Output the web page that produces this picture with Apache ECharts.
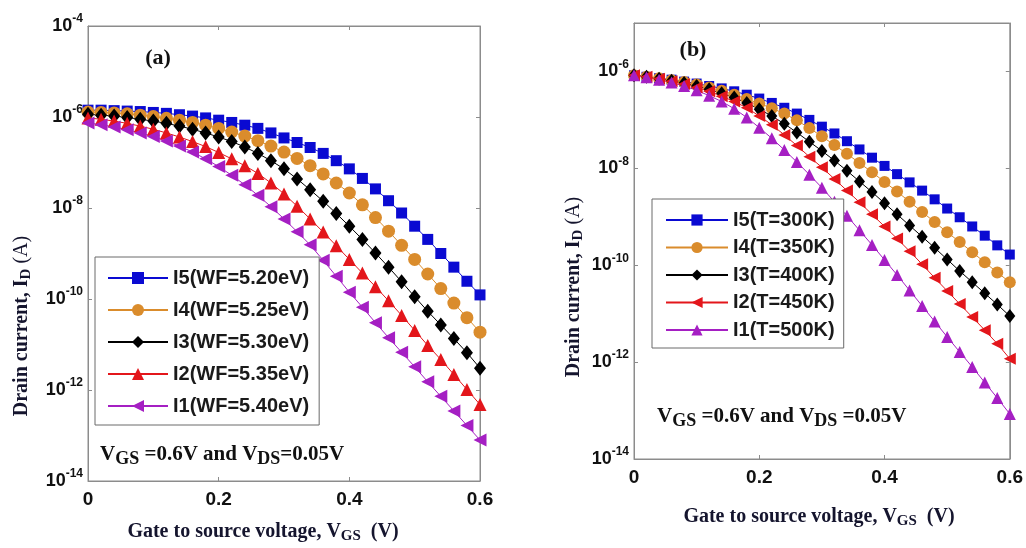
<!DOCTYPE html>
<html>
<head>
<meta charset="utf-8">
<script src="https://cdn.jsdelivr.net/npm/echarts@6/dist/echarts.min.js"></script>
<style>
  html, body { margin: 0; padding: 0; background: #fff; }
  #chart { width: 1026px; height: 548px; }
</style>
</head>
<body>
<div id="chart"></div>
<script>
// gate voltage steps (V)
const vgs = [0, 0.02, 0.04, 0.06, 0.08, 0.1, 0.12, 0.14, 0.16, 0.18, 0.2,
  0.22, 0.24, 0.26, 0.28, 0.3, 0.32, 0.34, 0.36, 0.38, 0.4,
  0.42, 0.44, 0.46, 0.48, 0.5, 0.52, 0.54, 0.56, 0.58, 0.6];

// panel (a): log10 of drain current
const namesA = ['I5(WF=5.20eV)', 'I4(WF=5.25eV)', 'I3(WF=5.30eV)', 'I2(WF=5.35eV)', 'I1(WF=5.40eV)'];
const logA_I5 = [-5.85, -5.85, -5.86, -5.87, -5.88, -5.90, -5.92, -5.95, -5.98, -6.02, -6.07,
  -6.12, -6.18, -6.25, -6.35, -6.46, -6.56, -6.67, -6.80, -6.96, -7.14,
  -7.35, -7.58, -7.84, -8.11, -8.40, -8.69, -9.00, -9.30, -9.61, -9.91];
const logA_I4 = [-5.89, -5.90, -5.91, -5.93, -5.96, -5.99, -6.03, -6.07, -6.12, -6.18, -6.25,
  -6.33, -6.42, -6.52, -6.64, -6.77, -6.91, -7.07, -7.25, -7.45, -7.67,
  -7.93, -8.21, -8.51, -8.82, -9.13, -9.45, -9.77, -10.09, -10.41, -10.73];
const logA_I3 = [-5.94, -5.96, -5.98, -6.01, -6.05, -6.09, -6.14, -6.20, -6.27, -6.35, -6.44,
  -6.54, -6.66, -6.80, -6.96, -7.14, -7.36, -7.60, -7.85, -8.12, -8.40,
  -8.69, -8.99, -9.30, -9.62, -9.95, -10.27, -10.57, -10.87, -11.18, -11.52];
const logA_I2 = [-6.02, -6.05, -6.09, -6.14, -6.20, -6.27, -6.35, -6.44, -6.54, -6.65, -6.78,
  -6.92, -7.07, -7.24, -7.45, -7.69, -7.96, -8.24, -8.53, -8.83, -9.13,
  -9.43, -9.73, -10.04, -10.36, -10.69, -11.02, -11.33, -11.66, -11.99, -12.32];
const logA_I1 = [-6.13, -6.17, -6.22, -6.28, -6.35, -6.43, -6.53, -6.64, -6.77, -6.92, -7.09,
  -7.28, -7.49, -7.72, -7.97, -8.24, -8.52, -8.81, -9.15, -9.50, -9.85,
  -10.18, -10.52, -10.85, -11.17, -11.49, -11.82, -12.14, -12.46, -12.78, -13.10];

// panel (b)
const namesB = ['I5(T=300K)', 'I4(T=350K)', 'I3(T=400K)', 'I2(T=450K)', 'I1(T=500K)'];
const logB_I5 = [-6.08, -6.11, -6.14, -6.17, -6.21, -6.25, -6.30, -6.35, -6.41, -6.48, -6.56,
  -6.65, -6.75, -6.87, -7.00, -7.14, -7.28, -7.44, -7.61, -7.78, -7.95,
  -8.12, -8.29, -8.46, -8.64, -8.83, -9.01, -9.20, -9.39, -9.59, -9.78];
const logB_I4 = [-6.08, -6.11, -6.14, -6.18, -6.22, -6.27, -6.33, -6.40, -6.48, -6.57, -6.66,
  -6.76, -6.87, -7.01, -7.17, -7.34, -7.52, -7.70, -7.89, -8.08, -8.28,
  -8.48, -8.69, -8.90, -9.11, -9.32, -9.52, -9.73, -9.94, -10.15, -10.35];
const logB_I3 = [-6.08, -6.11, -6.15, -6.19, -6.24, -6.30, -6.37, -6.45, -6.54, -6.65, -6.78,
  -6.92, -7.08, -7.26, -7.45, -7.64, -7.84, -8.05, -8.27, -8.49, -8.72,
  -8.95, -9.18, -9.41, -9.64, -9.88, -10.12, -10.35, -10.58, -10.81, -11.05];
const logB_I2 = [-6.08, -6.11, -6.15, -6.20, -6.26, -6.33, -6.41, -6.51, -6.62, -6.75, -6.92,
  -7.10, -7.31, -7.53, -7.76, -7.98, -8.22, -8.46, -8.70, -8.95, -9.20,
  -9.45, -9.71, -9.98, -10.26, -10.53, -10.80, -11.07, -11.34, -11.62, -11.93];
const logB_I1 = [-6.08, -6.12, -6.17, -6.23, -6.30, -6.39, -6.50, -6.62, -6.77, -6.95, -7.16,
  -7.38, -7.62, -7.87, -8.13, -8.40, -8.69, -8.98, -9.28, -9.58, -9.89,
  -10.20, -10.52, -10.84, -11.16, -11.48, -11.79, -12.10, -12.42, -12.74, -13.07];

const xTicks = [0, 0.2, 0.4, 0.6];

const BLUE = '#0a0ad2', ORANGE = '#da8c2c', BLACK = '#000000', RED = '#e3161b', MAGENTA = '#a51fc3';
const AXIS = '#8c8c8c';
const sans = '"Liberation Sans", Arial, sans-serif';
const serif = '"Liberation Serif", "Times New Roman", serif';

const pts = (logs) => vgs.map((v, i) => [v, Math.pow(10, logs[i])]);

function mk(name, logs, xi, yi, color, symbol, size, rotate) {
  return {
    name: name, type: 'line', xAxisIndex: xi, yAxisIndex: yi,
    data: pts(logs),
    symbol: symbol, symbolSize: size, symbolRotate: rotate || 0,
    showAllSymbol: true,
    lineStyle: { color: color, width: 1 },
    itemStyle: { color: color, borderWidth: 0 },
    emphasis: { disabled: true },
    animation: false
  };
}

function xAx(grid, pos, show) {
  return {
    type: 'value', gridIndex: grid, position: pos, min: 0, max: 0.6, interval: 0.2,
    axisLine: { show: true, onZero: false, lineStyle: { color: AXIS, width: 1 } },
    axisTick: { show: true, inside: true, length: 4, lineStyle: { color: AXIS } },
    splitLine: { show: false },
    axisLabel: {
      show: show, margin: 9, color: '#111',
      fontFamily: sans, fontWeight: 'bold', fontSize: 19,
      formatter: (v) => String(xTicks.find(t => Math.abs(t - v) < 1e-9) ?? v)
    }
  };
}

function yAx(grid, pos, show, max) {
  return {
    type: 'log', logBase: 100, gridIndex: grid, position: pos, min: 1e-14, max: max,
    axisLine: { show: true, onZero: false, lineStyle: { color: AXIS, width: 1 } },
    axisTick: { show: true, inside: true, length: 4, lineStyle: { color: AXIS } },
    splitLine: { show: false }, minorTick: { show: false },
    axisLabel: {
      show: show, margin: 5, showMaxLabel: max > 1e-5,
      formatter: (v) => '{b|10}{e|' + Math.round(Math.log10(v)) + '}',
      rich: {
        b: { fontFamily: sans, fontWeight: 'bold', fontSize: 18, color: '#111', lineHeight: 26 },
        e: { fontFamily: sans, fontWeight: 'bold', fontSize: 12, color: '#111', lineHeight: 10, verticalAlign: 'top' }
      }
    }
  };
}

function legendFor(names, left, top, w, h, gap, pad) {
  return {
    data: names, orient: 'vertical', left: left, top: top,
    itemWidth: w, itemHeight: h, itemGap: gap, padding: pad,
    borderColor: '#6a6a6a', borderWidth: 1, backgroundColor: '#fff',
    selectedMode: false,
    textStyle: { fontFamily: sans, fontWeight: 'bold', fontSize: 20, lineHeight: 20, color: '#1a1a1a' }
  };
}

const nameRich = {
  m: { font: 'bold 20px ' + serif, fill: '#15152e', lineHeight: 24 },
  s: { font: 'bold 15px ' + serif, fill: '#15152e', lineHeight: 12, verticalAlign: 'bottom' },
  r: { font: '20px ' + serif, fill: '#15152e', lineHeight: 24 }
};
const noteRich = {
  m: { font: 'bold 21px ' + serif, fill: '#111', lineHeight: 26 },
  s: { font: 'bold 18px ' + serif, fill: '#111', lineHeight: 14, verticalAlign: 'bottom' }
};

function txt(x, y, text, rich, rot, align) {
  return {
    type: 'text', x: x, y: y, rotation: rot || 0, silent: true,
    style: { text: text, rich: rich, align: align || 'center', verticalAlign: 'middle' }
  };
}

const chart = echarts.init(document.getElementById('chart'), null, { renderer: 'canvas' });
chart.setOption({
  backgroundColor: '#fff',
  animation: false,
  grid: [
    { left: 88, top: 26, width: 392, height: 455, show: true, borderColor: AXIS, borderWidth: 1 },
    { left: 634, top: 23, width: 377, height: 436, show: true, borderColor: AXIS, borderWidth: 1 }
  ],
  xAxis: [xAx(0, 'bottom', true), xAx(0, 'top', false), xAx(1, 'bottom', true), xAx(1, 'top', false)],
  yAxis: [yAx(0, 'left', true, 1e-4), yAx(0, 'right', false, 1e-4), yAx(1, 'left', true, 1e-5), yAx(1, 'right', false, 1e-5)],
  legend: [
    legendFor(namesA, 95, 257, 60, 15, 12, [11, 10, 9, 12]),
    legendFor(namesB, 652, 199, 62, 14, 7.5, [11, 9, 8, 13])
  ],
  series: [
    mk(namesA[0], logA_I5, 0, 0, BLUE, 'rect', 11),
    mk(namesA[1], logA_I4, 0, 0, ORANGE, 'circle', 13),
    mk(namesA[2], logA_I3, 0, 0, BLACK, 'diamond', [12, 15]),
    mk(namesA[3], logA_I2, 0, 0, RED, 'triangle', 13),
    mk(namesA[4], logA_I1, 0, 0, MAGENTA, 'triangle', 13, 90),
    mk(namesB[0], logB_I5, 2, 2, BLUE, 'rect', 10),
    mk(namesB[1], logB_I4, 2, 2, ORANGE, 'circle', 12),
    mk(namesB[2], logB_I3, 2, 2, BLACK, 'diamond', [11, 14]),
    mk(namesB[3], logB_I2, 2, 2, RED, 'triangle', 12, 90),
    mk(namesB[4], logB_I1, 2, 2, MAGENTA, 'triangle', 12)
  ],
  graphic: [
    txt(158, 58, '{m|(a)}', { m: { font: 'bold 22px ' + serif, fill: '#111' } }),
    txt(693, 50, '{m|(b)}', { m: { font: 'bold 22px ' + serif, fill: '#111' } }),
    txt(22, 326, '{m|Drain current, I}{s|D}{r| (A)}', nameRich, Math.PI / 2),
    txt(574, 287, '{m|Drain current, I}{s|D}{r| (A)}', nameRich, Math.PI / 2),
    txt(263, 532, '{m|Gate to source voltage, V}{s|GS}{m|  (V)}', nameRich),
    txt(819, 517, '{m|Gate to source voltage, V}{s|GS}{m|  (V)}', nameRich),
    txt(100, 455, '{m|V}{s|GS}{m| =0.6V and V}{s|DS}{m|=0.05V}', noteRich, 0, 'left'),
    txt(657, 417, '{m|V}{s|GS}{m| =0.6V and V}{s|DS}{m| =0.05V}', noteRich, 0, 'left')
  ]
});
</script>
</body>
</html>
